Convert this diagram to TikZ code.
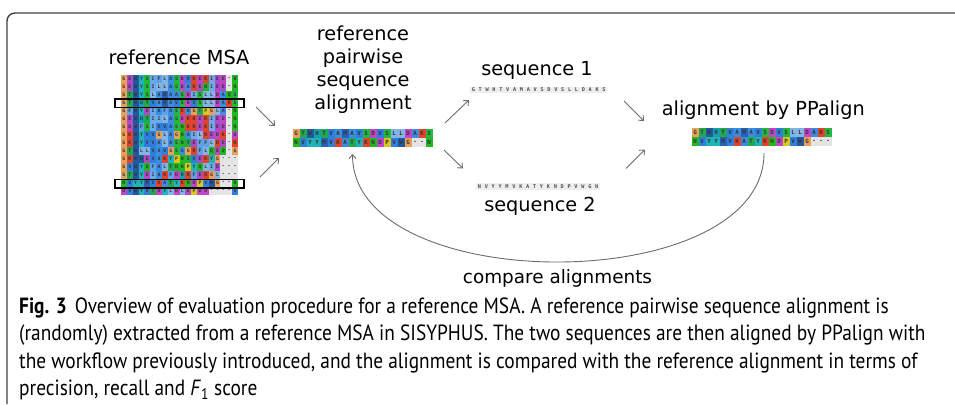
\documentclass[tikz,border=0pt]{standalone}
\usepackage{fontspec}
\setmainfont{PT Sans}[FakeStretch=0.88]
\newfontfamily\figfont{DejaVu Sans}
\newfontfamily\resfont{DejaVu Sans Mono}
\usetikzlibrary{arrows.meta, positioning, calc}

% ====== residue colours ======
\definecolor{resG}{HTML}{E8A05A}
\definecolor{resA}{HTML}{3C8CE0}
\definecolor{resV}{HTML}{2F80DD}
\definecolor{resI}{HTML}{6AAAE8}
\definecolor{resL}{HTML}{82B4E4}
\definecolor{resM}{HTML}{2A60B0}
\definecolor{resF}{HTML}{5FA0E6}
\definecolor{resW}{HTML}{24589E}
\definecolor{resH}{HTML}{17A0B0}
\definecolor{resY}{HTML}{20B4B8}
\definecolor{resK}{HTML}{E2432A}
\definecolor{resR}{HTML}{E2432A}
\definecolor{resD}{HTML}{C045C8}
\definecolor{resE}{HTML}{B048C8}
\definecolor{resN}{HTML}{22B822}
\definecolor{resQ}{HTML}{22B822}
\definecolor{resS}{HTML}{24B840}
\definecolor{resT}{HTML}{22A850}
\definecolor{resP}{HTML}{D8C81E}
\definecolor{resgap}{HTML}{E4E4E4}
\definecolor{seqbg}{HTML}{EEEEEE}

\tikzset{
  aa G/.style={fill=resG}, aa A/.style={fill=resA}, aa V/.style={fill=resV},
  aa I/.style={fill=resI}, aa L/.style={fill=resL}, aa M/.style={fill=resM},
  aa F/.style={fill=resF}, aa W/.style={fill=resW}, aa H/.style={fill=resH},
  aa Y/.style={fill=resY}, aa K/.style={fill=resK}, aa R/.style={fill=resR},
  aa D/.style={fill=resD}, aa E/.style={fill=resE}, aa N/.style={fill=resN},
  aa Q/.style={fill=resQ}, aa S/.style={fill=resS}, aa T/.style={fill=resT},
  aa P/.style={fill=resP}, aa -/.style={fill=resgap},
  res/.style={inner sep=0pt, text=black!80, font=\resfont\bfseries\fontsize{4.8}{5}\selectfont},
  bigres/.style={res, font=\resfont\bfseries\fontsize{5.8}{6}\selectfont},
  seqres/.style={inner sep=0pt, text=black!70, font=\resfont\bfseries\fontsize{5.2}{6}\selectfont},
  lbl/.style={inner sep=0pt, font=\figfont\fontsize{19.3}{22.7}\selectfont},
  flow/.style={->, draw=gray!85!black, line width=0.9pt}
}

% coloured row of an alignment: origin, row, cell width, cell height, text style, residues
\newcommand{\resrow}[6]{%
  \foreach \r [count=\i from 0] in {#6} {
    \path[aa \r] ($(#1)+(\i*#3,#2*#4)$) rectangle ++(#3,#4);
    \node[#5] (#1r#2c\i) at ($(#1)+(\i*#3+0.5*#3,#2*#4+0.5*#4)$) {\r};
  }%
}
% plain sequence on a grey strip: origin, cell width, cell height, residues
\newcommand{\seqrow}[4]{%
  \foreach \r [count=\i from 0] in {#4} {
    \path[fill=seqbg] ($(#1)+(\i*#2,0)$) rectangle ++(#2,#3);
    \node[seqres] (#1c\i) at ($(#1)+(\i*#2+0.5*#2,0.5*#3)$) {\r};
  }%
}

\begin{document}
\begin{tikzpicture}[x=1pt, y=-1pt, >={Straight Barb[length=4pt,width=7pt]}]
	\useasboundingbox (0,0) rectangle (955,404);
	
	% ====== frame ======
	\draw[line width=1.4pt, black!75, rounded corners=8pt] (7,404) -- (7,13) -- (955,13);
	
	% ====== reference MSA ======
	\node[lbl, anchor=base] (msaLabel) at (179,65) {reference MSA};
	\coordinate (msa) at (121,75);
	\resrow{msa}{0}{5.85}{8}{res}{G,E,W,Y,S,I,F,L,A,S,D,V,K,E,K,I,E,E,-,N}
	\resrow{msa}{1}{5.85}{8}{res}{G,E,W,Y,S,I,L,L,A,S,D,A,K,E,N,I,E,E,-,N}
	\resrow{msa}{2}{5.85}{8}{res}{G,T,W,Y,S,L,A,M,A,A,S,D,I,S,L,L,D,A,Q,S}
	\resrow{msa}{3}{5.85}{8}{res}{G,T,W,H,T,V,A,M,A,V,S,D,V,S,L,L,D,A,K,S}
	\resrow{msa}{4}{5.85}{8}{res}{G,F,W,Y,E,I,A,F,A,S,K,A,G,T,P,G,L,A,-,N}
	\resrow{msa}{5}{5.85}{8}{res}{G,E,W,H,T,I,I,L,A,S,D,K,R,E,K,I,E,D,-,N}
	\resrow{msa}{6}{5.85}{8}{res}{G,D,W,F,S,I,V,V,A,S,N,K,R,E,K,I,E,E,-,N}
	\resrow{msa}{7}{5.85}{8}{res}{G,K,W,Y,V,V,G,L,A,G,N,A,I,L,R,E,D,K,-,D}
	\resrow{msa}{8}{5.85}{8}{res}{G,K,W,Y,V,V,A,L,A,S,N,T,E,F,F,L,R,E,-,K}
	\resrow{msa}{9}{5.85}{8}{res}{G,T,W,L,L,V,A,V,G,S,A,G,R,F,L,Q,E,Q,-,G}
	\resrow{msa}{10}{5.85}{8}{res}{G,K,W,W,E,V,A,K,Y,P,N,S,V,E,K,Y,G,-,-,-}
	\resrow{msa}{11}{5.85}{8}{res}{G,V,W,Y,Q,F,A,L,T,N,N,P,Y,Q,L,I,E,-,-,-}
	\resrow{msa}{12}{5.85}{8}{res}{G,T,W,Y,E,I,A,R,F,D,H,R,F,E,R,G,L,-,-,-}
	\resrow{msa}{13}{5.85}{8}{res}{N,V,Y,Y,M,V,K,A,T,Y,K,N,D,P,V,W,G,-,-,N}
	\resrow{msa}{14}{5.85}{8}{res}{D,V,W,Y,V,T,D,Y,L,D,L,E,P,D,D,-,-,-,-,V}
	
	% ====== picked pair ======
	\draw[line width=1.8pt] (115,99) rectangle (244,107.5);
	\draw[line width=1.8pt] (115,179.5) rectangle (244,188);
	
	% ====== reference pairwise alignment ======
	\node[lbl, align=center, anchor=base] (pairLabel) at (363,109)
	{reference\\pairwise\\sequence\\alignment};
	\coordinate (pair) at (292.7,129.3);
	\resrow{pair}{0}{7}{9}{bigres}{G,T,W,H,T,V,A,M,A,V,S,D,V,S,L,L,D,A,K,S}
	\resrow{pair}{1}{7}{9}{bigres}{N,V,Y,Y,M,V,K,A,T,Y,K,N,D,P,V,W,G,-,-,N}
	
	% ====== the two sequences ======
	\node[lbl, anchor=base] (seqOneLabel) at (537,75) {sequence 1};
	\coordinate (seqOne) at (470,86.7);
	\seqrow{seqOne}{6.87}{6.6}{G,T,W,H,T,V,A,M,A,V,S,D,V,S,L,L,D,A,K,S}
	
	\coordinate (seqTwo) at (476,183);
	\seqrow{seqTwo}{6.9}{6.8}{N,V,Y,Y,M,V,K,A,T,Y,K,N,D,P,V,W,G,N}
	\node[lbl, anchor=base] (seqTwoLabel) at (540,211.7) {sequence 2};
	
	% ====== alignment by PPalign ======
	\node[lbl, anchor=base west] (ppaLabel) at (661.7,115) {alignment by PPalign};
	\coordinate (ppa) at (691.7,128);
	\resrow{ppa}{0}{7}{9.2}{bigres}{G,T,W,H,T,V,A,M,A,V,S,D,V,S,L,L,D,A,K,S}
	\resrow{ppa}{1}{7}{9.2}{bigres}{N,V,Y,Y,M,V,K,A,T,Y,K,N,D,P,V,W,G,-,-,-}
	
	% ====== flow arrows ======
	\coordinate (m1) at (256,107);  \coordinate (p1) at (275,126);
	\coordinate (m2) at (260,177);  \coordinate (p2) at (279,158);
	\coordinate (p3) at (445,123);  \coordinate (s1) at (469,100);
	\coordinate (p4) at (444,150);  \coordinate (s2) at (463,168.5);
	\coordinate (s3) at (624,101);  \coordinate (a1) at (644,121);
	\coordinate (s4) at (626,168.5);  \coordinate (a2) at (645,149.5);
	\draw[flow] (m1) -- (p1);
	\draw[flow] (m2) -- (p2);
	\draw[flow] (p3) -- (s1);
	\draw[flow] (p4) -- (s2);
	\draw[flow] (s3) -- (a1);
	\draw[flow] (s4) -- (a2);
	
	% ====== comparison ======
	\coordinate (ppaOut) at (764,153);
	\coordinate (pairIn) at (352.5,154);
	\draw[flow] (ppaOut) .. controls (764,298) and (352.5,298) .. (pairIn);
	\node[lbl, anchor=base, font=\figfont\fontsize{18.4}{22}\selectfont] (cmpLabel) at (557.5,283) {compare alignments};
	
	% ====== caption ======
	\node[anchor=base west, align=left, inner sep=0pt, font=\fontsize{22}{27.3}\selectfont]
	(caption) at (19,395.3)
	{\textbf{Fig. 3}\hspace{8pt}Overview of evaluation procedure for a reference MSA. A reference pairwise sequence alignment is\\
		(randomly) extracted from a reference MSA in SISYPHUS. The two sequences are then aligned by PPalign with\\
		the workflow previously introduced, and the alignment is compared with the reference alignment in terms of\\
		precision, recall and \textit{F}\textsubscript{1} score};
\end{tikzpicture}
\end{document}
